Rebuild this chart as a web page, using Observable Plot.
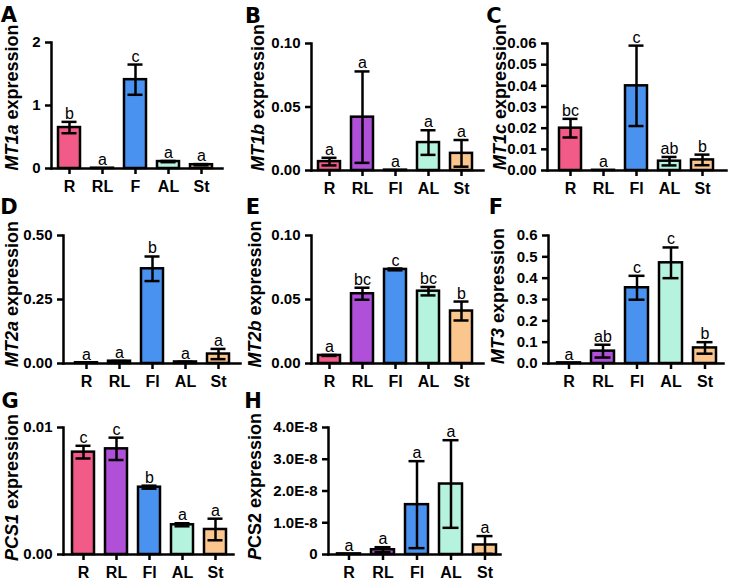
<!DOCTYPE html>
<html>
<head>
<meta charset="utf-8">
<script src="https://cdn.jsdelivr.net/npm/d3@7"></script>
<script src="https://cdn.jsdelivr.net/npm/@observablehq/plot@0.6"></script>
<style>
  html, body { margin: 0; padding: 0; background: white; }
  #chart { position: relative; width: 729px; height: 582px; overflow: hidden; background: white; }
  #chart svg { position: absolute; }
  #chart svg g[aria-label="y-axis tick label"] { font-size: 15px !important; font-weight: bold !important; }
  #chart svg g[aria-label="x-axis tick label"] { font-size: 16px !important; font-weight: bold !important; }
</style>
</head>
<body>
<div id="chart"></div>
<script>
// ---------- data ----------
const categories  = ["R", "RL", "Fl", "AL", "St"];
const categoriesA = ["R", "RL", "F", "AL", "St"];
const barColors   = ["#F25A88", "#B04FD8", "#4A92F0", "#B6F3DF", "#FBC58E"];

const mt1aMean = [0.65, 0.005, 1.41, 0.11, 0.06];
const mt1aErr  = [0.09, 0, 0.24, 0.01, 0.01];
const mt1aSig  = ["b", "a", "c", "a", "a"];
const mt1aTicks = [0, 1, 2];
const mt1aTickLabels = ["0", "1", "2"];

const mt1bMean = [0.007, 0.042, 0.0003, 0.022, 0.0135];
const mt1bErr  = [0.003, 0.036, 0, 0.0097, 0.0105];
const mt1bSig  = ["a", "a", "a", "a", "a"];
const mt1bTicks = [0, 0.05, 0.10];
const mt1bTickLabels = ["0.00", "0.05", "0.10"];

const mt1cMean = [0.020, 0.0001, 0.040, 0.0044, 0.0050];
const mt1cErr  = [0.0044, 0, 0.019, 0.002, 0.0025];
const mt1cSig  = ["bc", "a", "c", "ab", "b"];
const mt1cTicks = [0, 0.01, 0.02, 0.03, 0.04, 0.05, 0.06];
const mt1cTickLabels = ["0.00", "0.01", "0.02", "0.03", "0.04", "0.05", "0.06"];

const mt2aMean = [0.003, 0.009, 0.37, 0.006, 0.037];
const mt2aErr  = [0, 0.001, 0.048, 0.001, 0.02];
const mt2aSig  = ["a", "a", "b", "a", "a"];
const mt2aTicks = [0, 0.25, 0.5];
const mt2aTickLabels = ["0.00", "0.25", "0.50"];

const mt2bMean = [0.0063, 0.0545, 0.0735, 0.0565, 0.041];
const mt2bErr  = [0.0004, 0.0047, 0.0007, 0.0033, 0.0074];
const mt2bSig  = ["a", "bc", "c", "bc", "b"];
const mt2bTicks = [0, 0.05, 0.10];
const mt2bTickLabels = ["0.00", "0.05", "0.10"];

const mt3Mean = [0.003, 0.058, 0.355, 0.472, 0.073];
const mt3Err  = [0, 0.03, 0.056, 0.072, 0.027];
const mt3Sig  = ["a", "ab", "c", "c", "b"];
const mt3Ticks = [0, 0.1, 0.2, 0.3, 0.4, 0.5, 0.6];
const mt3TickLabels = ["0.0", "0.1", "0.2", "0.3", "0.4", "0.5", "0.6"];

const pcs1Mean = [0.00806, 0.00832, 0.0053, 0.00234, 0.00197];
const pcs1Err  = [0.0005, 0.00088, 0.00012, 0.00012, 0.00085];
const pcs1Sig  = ["c", "c", "b", "a", "a"];
const pcs1Ticks = [0, 0.01];
const pcs1TickLabels = ["0.00", "0.01"];

const pcs2Mean = [0.02e-8, 0.15e-8, 1.57e-8, 2.22e-8, 0.30e-8];
const pcs2Err  = [0, 0.08e-8, 1.37e-8, 1.38e-8, 0.28e-8];
const pcs2Sig  = ["a", "a", "a", "a", "a"];
const pcs2Ticks = [0, 1e-8, 2e-8, 3e-8, 4e-8];
const pcs2TickLabels = ["0", "1.0E-8", "2.0E-8", "3.0E-8", "4.0E-8"];

// ---------- layout (pixel positions only) ----------
const FONT = "'Liberation Sans', Arial, Helvetica, sans-serif";
const LETTER_FONT = "'DejaVu Sans', 'Liberation Sans', Arial, sans-serif";
const panels = [
  {letter: "A", gene: [["MT1a", true]], cats: categoriesA, mean: mt1aMean, err: mt1aErr, sig: mt1aSig, ticks: mt1aTicks, tickLabels: mt1aTickLabels,
   left: 0, top: 0, w: 243, h: 192, ml: 51, mr: 21, mt: 42, mb: 24, xr: [50.5, 219], tx: 17.5, ty: 97.5, lx: 9, ly: 22},
  {letter: "B", gene: [["MT1b", true]], cats: categories, mean: mt1bMean, err: mt1bErr, sig: mt1bSig, ticks: mt1bTicks, tickLabels: mt1bTickLabels,
   left: 243, top: 0, w: 243, h: 192, ml: 68, mr: 3, mt: 43, mb: 22, xr: [68.5, 235], tx: 264, ty: 97.5, lx: 253, ly: 23},
  {letter: "C", gene: [["MT1c", true]], cats: categories, mean: mt1cMean, err: mt1cErr, sig: mt1cSig, ticks: mt1cTicks, tickLabels: mt1cTickLabels,
   left: 486, top: 0, w: 243, h: 192, ml: 61, mr: 3, mt: 43, mb: 22, xr: [66.6, 234], tx: 505.5, ty: 97, lx: 494, ly: 23},
  {letter: "D", gene: [["MT2a", true]], cats: categories, mean: mt2aMean, err: mt2aErr, sig: mt2aSig, ticks: mt2aTicks, tickLabels: mt2aTickLabels,
   left: 0, top: 192, w: 243, h: 193, ml: 63, mr: 3, mt: 43, mb: 22, xr: [68, 237], tx: 18, ty: 294, lx: 9, ly: 214},
  {letter: "E", gene: [["MT2b", true]], cats: categories, mean: mt2bMean, err: mt2bErr, sig: mt2bSig, ticks: mt2bTicks, tickLabels: mt2bTickLabels,
   left: 243, top: 192, w: 243, h: 193, ml: 68, mr: 3, mt: 43, mb: 22, xr: [68.3, 235.8], tx: 261, ty: 294, lx: 253, ly: 214},
  {letter: "F", gene: [["MT3", true]], cats: categories, mean: mt3Mean, err: mt3Err, sig: mt3Sig, ticks: mt3Ticks, tickLabels: mt3TickLabels,
   left: 486, top: 192, w: 243, h: 193, ml: 62, mr: 6, mt: 43, mb: 22, xr: [64.6, 235.4], tx: 504, ty: 296, lx: 496, ly: 214},
  {letter: "G", gene: [["PCS1", true]], cats: categories, mean: pcs1Mean, err: pcs1Err, sig: pcs1Sig, ticks: pcs1Ticks, tickLabels: pcs1TickLabels,
   left: 0, top: 385, w: 243, h: 197, ml: 63, mr: 10, mt: 42, mb: 28, xr: [64.8, 233.6], tx: 18, ty: 487.5, lx: 10, ly: 408},
  {letter: "H", gene: [["P", true], ["CS2", false]], cats: categories, mean: pcs2Mean, err: pcs2Err, sig: pcs2Sig, ticks: pcs2Ticks, tickLabels: pcs2TickLabels,
   left: 243, top: 385, w: 270, h: 197, ml: 85, mr: 13, mt: 42, mb: 28, xr: [88, 258], tx: 261, ty: 486.5, lx: 253, ly: 408}
];

const chart = document.getElementById("chart");

for (const p of panels) {
  const rows = p.cats.map((c, i) => ({cat: c, mean: p.mean[i], err: p.err[i], sig: p.sig[i]}));
  const withErr = rows.filter(d => d.err > 0);
  const ymax = p.ticks[p.ticks.length - 1];
  const svg = Plot.plot({
    width: p.w, height: p.h,
    marginLeft: p.ml, marginRight: p.mr, marginTop: p.mt, marginBottom: p.mb,
    style: {background: "transparent", fontFamily: FONT, overflow: "visible", color: "black"},
    x: {domain: p.cats, range: p.xr, paddingInner: 0.33, paddingOuter: 0.165, label: null},
    y: {domain: [0, ymax], label: null},
    color: {domain: p.cats, range: barColors},
    marks: [
      Plot.barY(rows, {x: "cat", y: "mean", fill: "cat", stroke: "black", strokeWidth: 2.5}),
      Plot.ruleX(withErr, {x: "cat", y1: d => Math.max(0, d.mean - d.err), y2: d => d.mean + d.err, stroke: "black", strokeWidth: 2.5}),
      Plot.tickY(withErr, {x: "cat", y: d => d.mean + d.err, stroke: "black", strokeWidth: 2.5, insetLeft: 3.5, insetRight: 3.5}),
      Plot.tickY(withErr, {x: "cat", y: d => Math.max(0, d.mean - d.err), stroke: "black", strokeWidth: 2.5, insetLeft: 3.5, insetRight: 3.5}),
      Plot.text(rows, {x: "cat", y: d => d.mean + d.err, text: "sig", dy: -3, lineAnchor: "bottom", fontSize: 16, fontWeight: "normal", fill: "black"}),
      Plot.frame({anchor: "left", stroke: "black", strokeWidth: 2.5}),
      Plot.frame({anchor: "bottom", stroke: "black", strokeWidth: 2.5}),
      Plot.axisY({ticks: p.ticks, tickFormat: d => p.tickLabels[p.ticks.indexOf(d)], tickSize: 6, tickPadding: 5,
                  stroke: "black", strokeWidth: 2.5, fontSize: 15, fontWeight: "bold", fill: "black", label: null}),
      Plot.axisX({tickSize: 6, tickPadding: 6, stroke: "black", strokeWidth: 2.5, fontSize: 16, fontWeight: "bold", fill: "black", label: null})
    ]
  });
  svg.style.left = p.left + "px";
  svg.style.top = p.top + "px";
  const s = d3.select(svg);
  // y-axis title
  const t = s.append("text")
    .attr("transform", `translate(${p.tx - p.left},${p.ty - p.top}) rotate(-90)`)
    .attr("text-anchor", "middle")
    .attr("font-family", FONT)
    .attr("font-size", 18)
    .attr("font-weight", "bold")
    .attr("fill", "black");
  for (const [txt, ital] of p.gene) {
    t.append("tspan").attr("font-style", ital ? "italic" : "normal").text(txt);
  }
  t.append("tspan").attr("font-style", "normal").text(" expression");
  // panel letter
  s.append("text")
    .attr("x", p.lx - p.left)
    .attr("y", p.ly - p.top)
    .attr("font-family", LETTER_FONT)
    .attr("font-size", 21)
    .attr("font-weight", "bold")
    .attr("fill", "black")
    .text(p.letter);
  chart.appendChild(svg);
}
</script>
</body>
</html>
